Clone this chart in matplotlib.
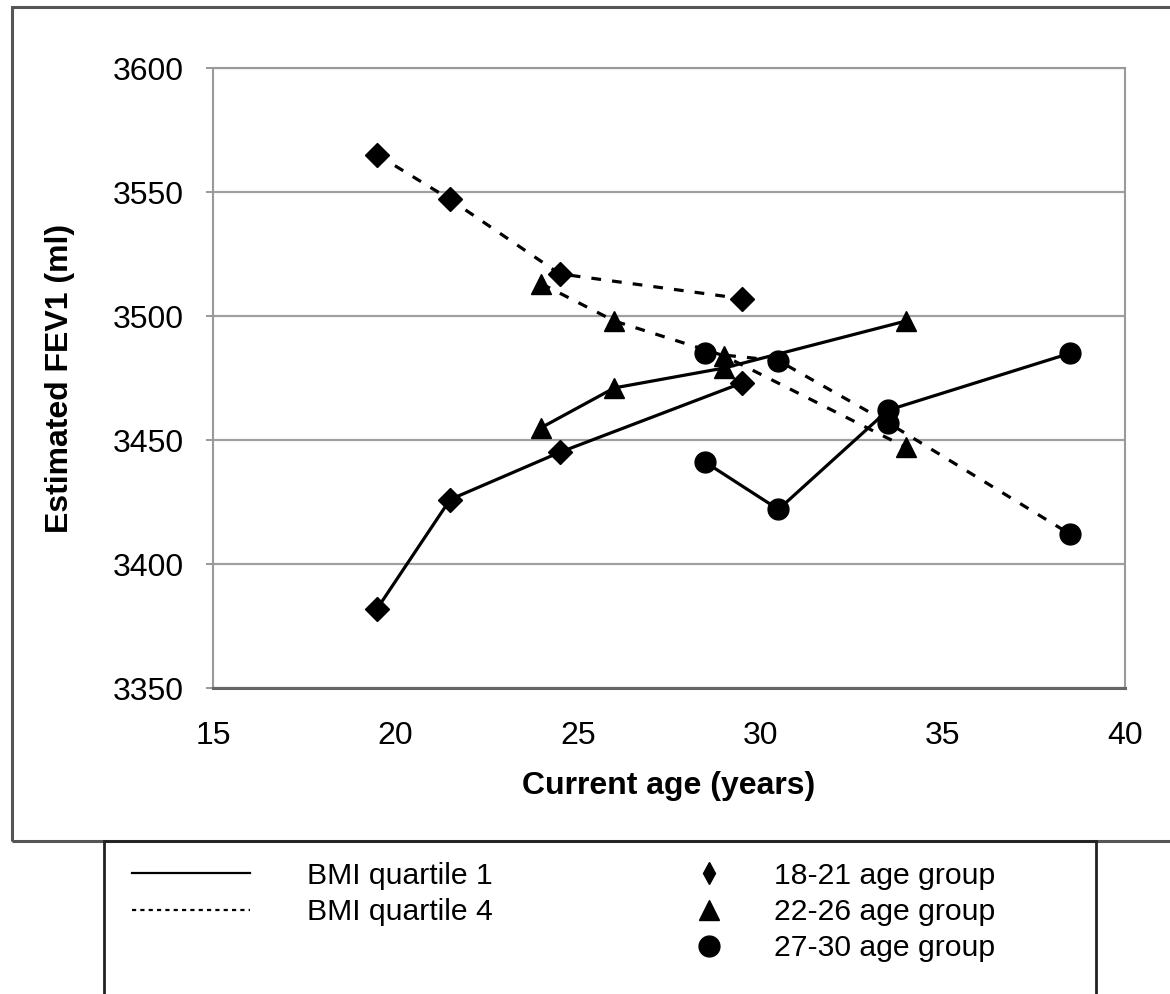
import matplotlib
matplotlib.use('Agg')
import matplotlib.pyplot as plt
from matplotlib.lines import Line2D
from matplotlib.patches import Rectangle

plt.rcParams['font.family'] = ['Liberation Sans', 'DejaVu Sans']
plt.rcParams['lines.scale_dashes'] = False

# ages at each survey, per baseline age group
age_18_21 = [19.5, 21.5, 24.5, 29.5]
age_22_26 = [24, 26, 29, 34]
age_27_30 = [28.5, 30.5, 33.5, 38.5]

# estimated FEV1 (ml), BMI quartile 1 (solid) and quartile 4 (dashed)
q1_18_21 = [3382, 3426, 3445, 3473]
q4_18_21 = [3565, 3547, 3517, 3507]
q1_22_26 = [3455, 3471, 3479, 3498]
q4_22_26 = [3513, 3498, 3484, 3447]
q1_27_30 = [3441, 3422, 3462, 3485]
q4_27_30 = [3485, 3482, 3457, 3412]

y_ticks = [3350, 3400, 3450, 3500, 3550, 3600]
x_ticks = [15, 20, 25, 30, 35, 40]

fig = plt.figure(figsize=(11.7, 9.94), dpi=100)
ax = fig.add_axes([213 / 1170, 1 - 688 / 994, (1125 - 213) / 1170, (688 - 68) / 994])

dash = (7, 8)
lw = 2.3
groups = [
    (age_18_21, q1_18_21, q4_18_21, 'D', 12),
    (age_22_26, q1_22_26, q4_22_26, '^', 15),
    (age_27_30, q1_27_30, q4_27_30, 'o', 15),
]
for ages, q1, q4, mk, ms in groups:
    ax.plot(ages, q4, color='black', lw=lw, dashes=dash, marker=mk, ms=ms, zorder=3)
    ax.plot(ages, q1, color='black', lw=lw, marker=mk, ms=ms, zorder=3)

ax.set_xlim(15, 40)
ax.set_ylim(3350, 3600)
ax.set_xticks(x_ticks)
ax.set_yticks(y_ticks)
ax.yaxis.grid(True, color='#a0a0a0', lw=1.6)
ax.set_axisbelow(True)
ax.tick_params(axis='x', length=0, labelsize=23, pad=24)
ax.tick_params(axis='y', length=5, width=1.2, color='#888888', labelsize=23, pad=16)
for side in ['top', 'right', 'left']:
    ax.spines[side].set_color('#999999')
    ax.spines[side].set_linewidth(1.5)
ax.spines['bottom'].set_color('#666666')
ax.spines['bottom'].set_linewidth(2.2)

ax.set_xlabel('Current age (years)', fontsize=23, fontweight='bold', labelpad=14)
ax.set_ylabel('Estimated FEV1 (ml)', fontsize=23, fontweight='bold', labelpad=27)

# outer chart frame and legend box
fig.add_artist(Rectangle((12 / 1170, 1 - 841 / 994), 1.2, (841 - 7) / 994,
                         transform=fig.transFigure, fill=False, ec='#555555', lw=2.2))
fig.add_artist(Rectangle((104 / 1170, -0.05), (1096 - 104) / 1170, 0.05 + 1 - 841 / 994,
                         transform=fig.transFigure, fill=False, ec='#222222', lw=2.0))

line_handles = [Line2D([], [], color='black', lw=1.6),
                Line2D([], [], color='black', lw=1.6, dashes=(3, 3))]
leg1 = fig.legend(line_handles, ['BMI quartile 1', 'BMI quartile 4'],
                  loc='upper left', bbox_to_anchor=(132 / 1170, 1 - 862 / 994),
                  frameon=False, fontsize=21.7, handlelength=3.9, handletextpad=1.9,
                  labelspacing=0.27, borderpad=0, borderaxespad=0)

marker_handles = [Line2D([], [], color='black', ls='none', marker='d', ms=11),
                  Line2D([], [], color='black', ls='none', marker='^', ms=15),
                  Line2D([], [], color='black', ls='none', marker='o', ms=15)]
leg2 = fig.legend(marker_handles, ['18-21 age group', '22-26 age group', '27-30 age group'],
                  loc='upper left', bbox_to_anchor=(694 / 1170, 1 - 862 / 994),
                  frameon=False, fontsize=21.7, handlelength=0.97, handletextpad=1.68,
                  labelspacing=0.27, borderpad=0, borderaxespad=0)

fig.savefig('out.png', dpi=100)
